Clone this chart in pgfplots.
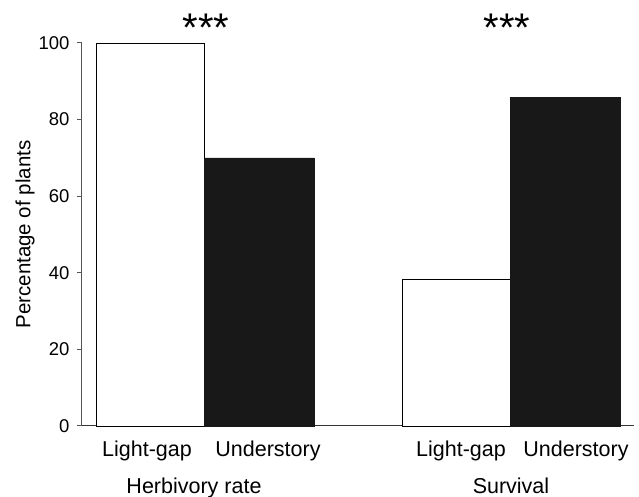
\documentclass[border=0pt]{standalone}
\usepackage{pgfplots}
\pgfplotsset{compat=1.18}
\usepackage{fontspec}
\setmainfont{Liberation Sans}
\definecolor{barblack}{HTML}{181818}
\definecolor{axisgray}{HTML}{555555}
\begin{document}
\begin{tikzpicture}
\begin{axis}[
  name=ax,
  scale only axis,
  width=552pt, height=383pt,
  xmin=82, xmax=634, ymin=0, ymax=100,
  axis x line=bottom, axis y line=left,
  axis line style={axisgray, line width=1pt, -},
  x axis line style={black!80},
  ytick={0,20,40,60,80,100},
  ytick style={axisgray, line width=1pt},
  tick align=outside,
  major tick length=5pt,
  xtick={147,268,461,576},
  xticklabels={Light-gap,Understory,Light-gap,Understory},
  xtick style={draw=none},
  /pgf/number format/assume math mode=true,
  yticklabel style={font=\fontsize{18.5}{21}\selectfont, xshift=-4pt},
  xticklabel style={font=\fontsize{21.5}{25}\selectfont, anchor=base, yshift=-25.5pt},
  ylabel={Percentage of plants},
  every axis y label/.style={at={(axis description cs:-0.1033,0.5)}, rotate=90, anchor=center, font=\fontsize{20.5}{24}\selectfont},
  clip=false,
]
\addplot[ybar, bar width=108, bar shift=0pt, draw=black, fill=white, line width=0.9pt]
  coordinates {(150,100) (456,38.2)};
\addplot[ybar, bar width=110, bar shift=0pt, draw=barblack, fill=barblack, line width=0.5pt]
  coordinates {(259,70) (565.5,85.8)};
\node[font=\fontsize{21.5}{25}\selectfont, anchor=base] at (axis cs:194,0) [yshift=-67pt] {Herbivory rate};
\node[font=\fontsize{21.5}{25}\selectfont, anchor=base] at (axis cs:511,0) [yshift=-67pt] {Survival};
\node[font=\fontsize{40}{46}\selectfont, anchor=base] at (axis cs:206,100) [yshift=1pt] {***};
\node[font=\fontsize{40}{46}\selectfont, anchor=base] at (axis cs:507,100) [yshift=1pt] {***};
\end{axis}
\pgfresetboundingbox
\path[use as bounding box] ([shift={(-82pt,-71pt)}]ax.south west) rectangle ([shift={(5pt,43pt)}]ax.north east);
\end{tikzpicture}
\end{document}
